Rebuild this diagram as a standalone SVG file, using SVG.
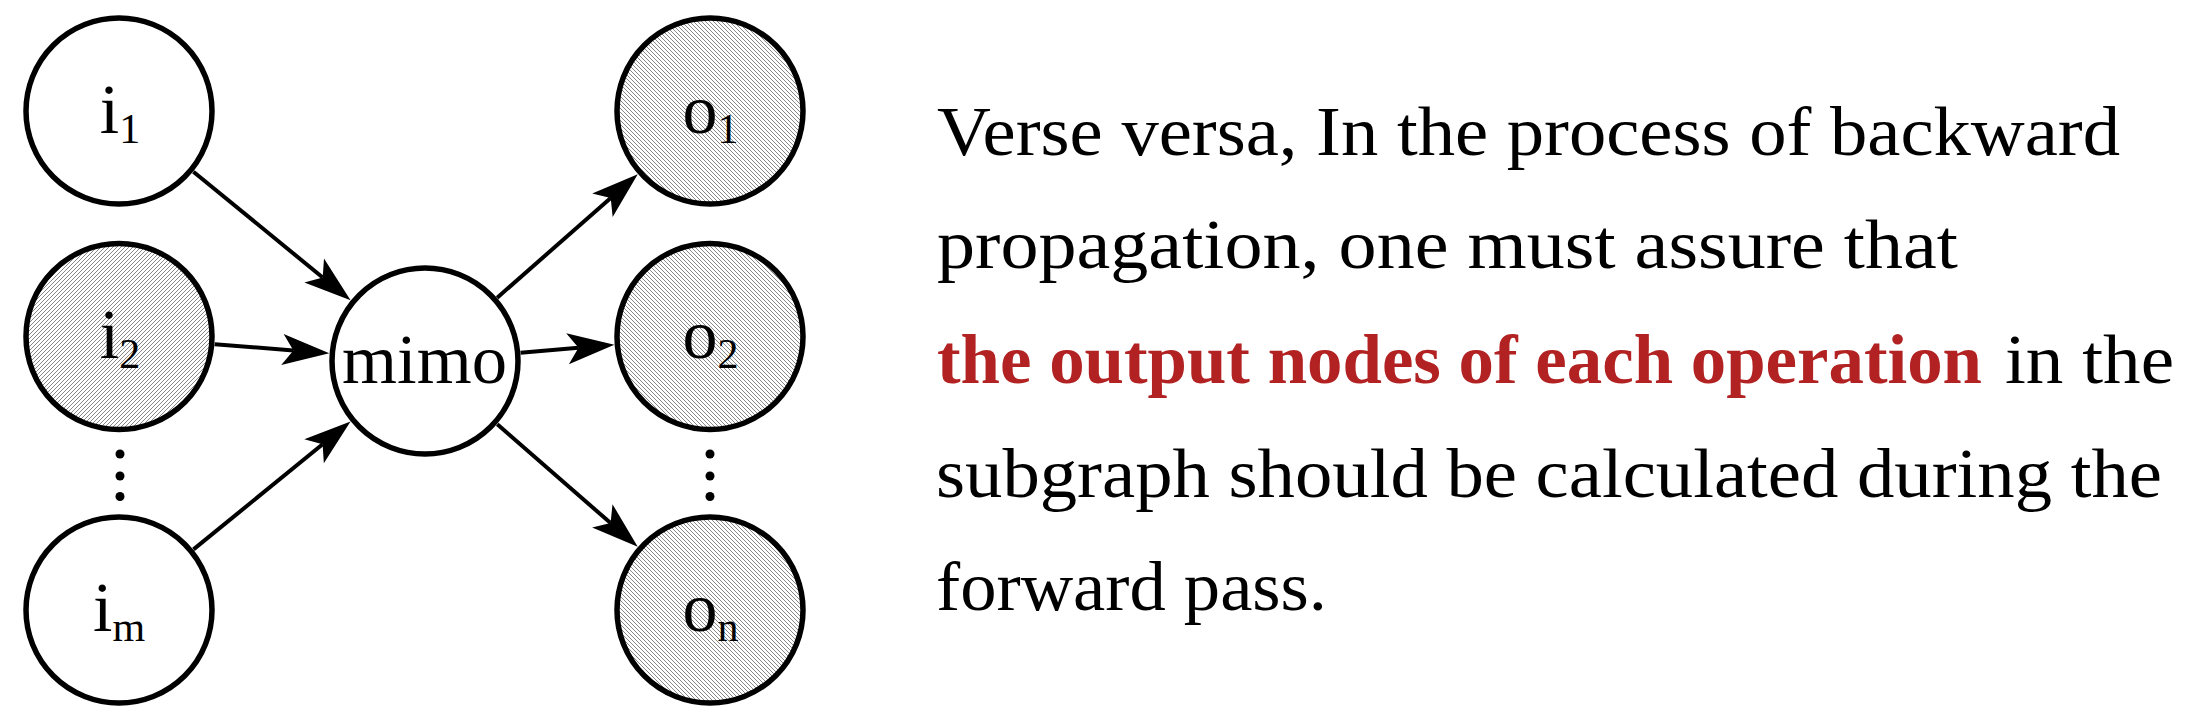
<svg xmlns="http://www.w3.org/2000/svg" width="2206" height="719" viewBox="0 0 2206 719">
<style>
.node{stroke:#000;stroke-width:5.5;fill:#fff}
.ne{fill:url(#hatchNE)}
.nw{fill:url(#hatchNW)}
.lbl{font-family:"Liberation Serif",serif;font-size:70px;fill:#000;text-anchor:middle}
.sub{font-size:42px}
.edge{stroke:#000;stroke-width:4;fill:none;marker-end:url(#arr)}
.txt{font-family:"Liberation Serif",serif;font-size:70px;fill:#000}
.red{font-weight:bold;fill:#B22222}
</style>
<defs>
<pattern id="hatchNE" patternUnits="userSpaceOnUse" width="4" height="4">
<rect width="4" height="4" fill="#fff"/>
<path d="M-1,1 L1,-1 M0,4 L4,0 M3,5 L5,3" stroke="#555" stroke-width="0.7"/>
</pattern>
<pattern id="hatchNW" patternUnits="userSpaceOnUse" width="4" height="4">
<rect width="4" height="4" fill="#fff"/>
<path d="M-1,3 L1,5 M0,0 L4,4 M3,-1 L5,1" stroke="#555" stroke-width="0.7"/>
</pattern>
<marker id="arr" markerUnits="userSpaceOnUse" orient="auto" refX="0" refY="0" markerWidth="60" markerHeight="40" viewBox="-15 -20 60 40" overflow="visible">
<path d="M36,0 L-11,-15.5 L0,0 L-11,15.5 Z" fill="#000"/>
</marker>
</defs>

<g id="connectors">
<line class="edge" x1="193.4" y1="171.7" x2="322.7" y2="277.5"/>
<line class="edge" x1="214.7" y1="344.2" x2="293.4" y2="350.4"/>
<line class="edge" x1="193.5" y1="549.4" x2="322.6" y2="444.3"/>
<line class="edge" x1="497.2" y1="297.7" x2="610.7" y2="198.0"/>
<line class="edge" x1="520.6" y1="352.8" x2="578.5" y2="347.8"/>
<line class="edge" x1="497.3" y1="424.2" x2="610.6" y2="523.1"/>
</g>

<g id="i1">
<circle class="node" cx="119" cy="111" r="93"/>
<text class="lbl" x="120" y="132.5">i<tspan class="sub" dy="10">1</tspan></text>
</g>
<g id="i2">
<circle class="node ne" cx="119" cy="336.5" r="93"/>
<text class="lbl" x="120" y="358">i<tspan class="sub" dy="10">2</tspan></text>
</g>
<g id="im">
<circle class="node" cx="119" cy="610" r="93"/>
<text class="lbl" x="119" y="631">i<tspan class="sub" dy="10">m</tspan></text>
</g>
<g id="mimo">
<circle class="node" cx="425" cy="361" r="93"/>
<text class="lbl" x="424.5" y="383" textLength="165" lengthAdjust="spacingAndGlyphs">mimo</text>
</g>
<g id="o1">
<circle class="node nw" cx="710" cy="111" r="93"/>
<text class="lbl" x="710.5" y="132.5">o<tspan class="sub" dy="10">1</tspan></text>
</g>
<g id="o2">
<circle class="node nw" cx="710" cy="336.5" r="93"/>
<text class="lbl" x="710.5" y="358">o<tspan class="sub" dy="10">2</tspan></text>
</g>
<g id="on">
<circle class="node nw" cx="710" cy="610" r="93"/>
<text class="lbl" x="710.5" y="631">o<tspan class="sub" dy="10">n</tspan></text>
</g>

<g id="dots">
<circle cx="120" cy="454" r="4.5"/>
<circle cx="120" cy="476" r="4.5"/>
<circle cx="120" cy="496.5" r="4.5"/>
<circle cx="710" cy="454" r="4.5"/>
<circle cx="710" cy="476" r="4.5"/>
<circle cx="710" cy="496.5" r="4.5"/>
</g>

<g id="text">
<text class="txt" x="937" y="155" textLength="1183" lengthAdjust="spacingAndGlyphs">Verse versa, In the process of backward</text>
<text class="txt" x="937" y="268" textLength="1021" lengthAdjust="spacingAndGlyphs">propagation, one must assure that</text>
<text class="txt red" x="937" y="382.5" textLength="1045" lengthAdjust="spacingAndGlyphs">the output nodes of each operation</text>
<text class="txt" x="2005" y="382.5" textLength="169" lengthAdjust="spacingAndGlyphs">in the</text>
<text class="txt" x="936" y="496.5" textLength="1226" lengthAdjust="spacingAndGlyphs">subgraph should be calculated during the</text>
<text class="txt" x="936" y="610" textLength="391" lengthAdjust="spacingAndGlyphs">forward pass.</text>
</g>
</svg>
